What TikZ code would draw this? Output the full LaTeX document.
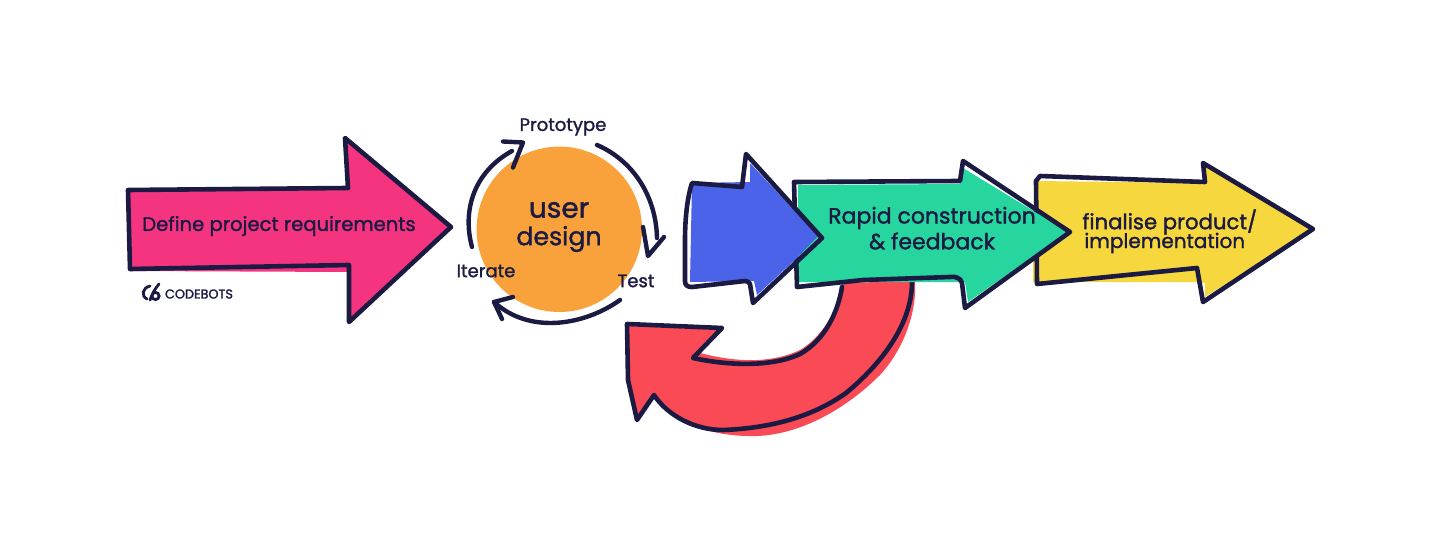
\documentclass[tikz,border=0pt]{standalone}
\usepackage{fontspec}
\setmainfont{Poppins}[UprightFeatures={FakeBold=1.4}]
\newfontfamily\logofont{Poppins}[UprightFeatures={FakeBold=2}]
\definecolor{inkblue}{HTML}{1B1A42}
\definecolor{pinkfill}{HTML}{F5347F}
\definecolor{orangefill}{HTML}{F9A23C}
\definecolor{bluefill}{HTML}{4A63E8}
\definecolor{greenfill}{HTML}{27D69E}
\definecolor{redfill}{HTML}{F94A55}
\definecolor{yellowfill}{HTML}{F6D73E}
\tikzset{
    outline/.style={draw=inkblue, line width=2.3pt, line join=round, line cap=round},
    cycleline/.style={draw=inkblue, line width=2.2pt, line cap=round, line join=round},
    handtext/.style={text=inkblue, inner sep=0pt, font=\fontsize{11}{13}\selectfont},
    cycletext/.style={text=inkblue, inner sep=0pt, font=\fontsize{9}{11}\selectfont}
}
\begin{document}
\begin{tikzpicture}[x=0.5pt,y=-0.5pt]
    \useasboundingbox (0,0) rectangle (1450,534);

    %Erster Pfeil
    \fill[pinkfill] (128,190) -- (348,190) -- (347,142) -- (451,227) -- (350,321) -- (350,272) -- (130,271) -- cycle;
    \draw[outline] (128,190) -- (348,188) -- (345,138) -- (451,227) -- (349,322) -- (349,265) -- (130,269) -- cycle;
    \node[handtext, font=\fontsize{9.8}{12}\selectfont] (define) at (279,226) {Define project requirements};

    %Logo
    \draw[draw=inkblue, line width=1.4pt, line cap=round] (150,286) .. controls (142,288) and (141,296) .. (147,299);
    \draw[draw=inkblue, line width=1.4pt, line cap=round] (150,300) .. controls (153,292) and (155,289) .. (159,284);
    \draw[draw=inkblue, line width=1.4pt] (155.5,296) circle (3.6);
    \node[text=inkblue, inner sep=0pt, font=\logofont\fontsize{6.4}{8}\selectfont] (codebots) at (199,294) {CODEBOTS};

    %Kreis
    \fill[orangefill] (559.3,229.3) circle (82.7);
    \node[handtext, font=\fontsize{14}{17}\selectfont] (user) at (559,210) {user};
    \node[handtext, font=\fontsize{12.6}{15}\selectfont] (design) at (559,239) {design};
    \node[cycletext] (prototype) at (563,127) {Prototype};
    \node[cycletext] (iterate) at (486,271) {Iterate};
    \node[cycletext] (test) at (636,281) {Test};

    %Kreispfeile
    \draw[cycleline] (472,247) .. controls (462,210) and (474,172) .. (512,151);
    \draw[cycleline] (503,141.5) -- (523,142.5) -- (513,167.5);
    \draw[cycleline] (597,145) .. controls (632,160) and (656,195) .. (657,238);
    \draw[cycleline] (643,227) -- (648,256) -- (664,237);
    \draw[cycleline] (620,300) .. controls (585,325) and (530,335) .. (494,302);
    \draw[cycleline] (513,297) -- (494,302) -- (502,319);

    %Gelber Pfeil
    \fill[yellowfill] (1034,181) -- (1205,183) -- (1204,166) -- (1313,229) -- (1205,297) -- (1205,283) -- (1195,282) -- (1033,282) -- cycle;
    \draw[outline] (1036,181) -- (1040,176) -- (1205,182) -- (1203,163) -- (1313,229) -- (1203,302) -- (1197,268) -- (1037,284) -- cycle;
    \node[handtext, anchor=west, font=\fontsize{10.6}{13}\selectfont] (finalise) at (1082,222) {finalise product/};
    \node[handtext, anchor=west, font=\fontsize{10}{12}\selectfont] (implementation) at (1084,243) {implementation};

    %Roter Pfeil
    \fill[redfill] (842,283) .. controls (840,305) and (825,335) .. (800,350) .. controls (770,364) and (735,362) .. (700,353) -- (723,330) -- (627,326) -- (628,380) -- (635,420) -- (655,397) .. controls (675,425) and (715,437) .. (757,436) .. controls (805,434) and (850,405) .. (880,375) .. controls (905,348) and (917,310) .. (915,281) -- cycle;
    \draw[outline] (842,287) .. controls (838,312) and (825,340) .. (800,354) .. controls (770,368) and (725,365) .. (693,358) -- (722,328) -- (627,324) -- (628,380) -- (637,420) -- (654,395) .. controls (668,416) and (695,430) .. (723,430) .. controls (775,428) and (815,415) .. (846,393) .. controls (880,365) and (912,325) .. (912,282);

    %Gruener Pfeil
    \fill[greenfill] (798,185) -- (960,184) -- (963,168) -- (1068,232) -- (968,302) -- (965,282) -- (798,282) -- cycle;
    \draw[outline] (794,182) -- (960,181) -- (963,161) -- (1070,232) -- (965,308) -- (962,283) .. controls (961,278) and (955,276) .. (950,277) -- (863,280) -- (797,287) -- cycle;
    \node[handtext] (rapid) at (932,218) {Rapid construction};
    \node[handtext] (feedback) at (932,241) {\& feedback};

    %Blauer Pfeil
    \fill[bluefill] (692,183) -- (750,182) -- (750,163) -- (818,236) -- (796,259) -- (757,295) -- (754,281) -- (690,282) -- cycle;
    \draw[outline] (692,183) -- (742,187) -- (746,154) -- (822,238) -- (753,303) -- (750,284) .. controls (749,282) and (747,281) .. (745,281) -- (692,287) .. controls (687,287) and (685,285) .. (685,281) -- (685,240) .. controls (685,215) and (688,195) .. (692,183) -- cycle;
\end{tikzpicture}
\end{document}
